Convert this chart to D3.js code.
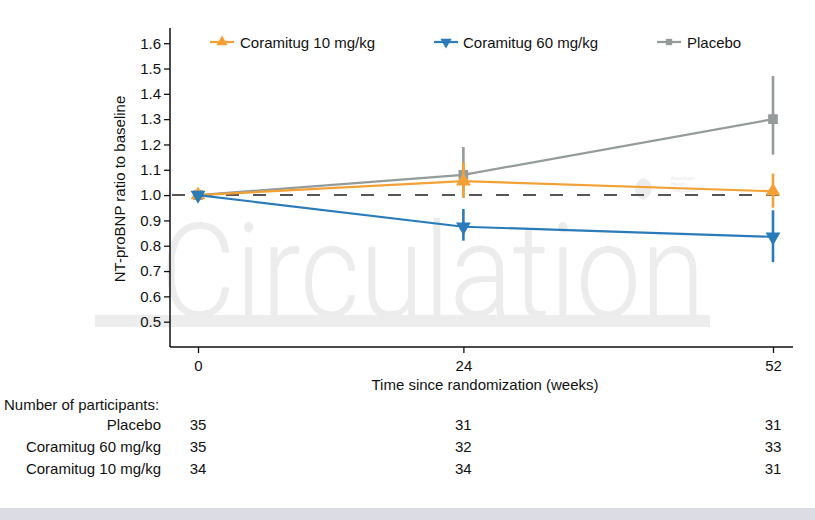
<!DOCTYPE html>
<html><head><meta charset="utf-8">
<script src="https://cdn.jsdelivr.net/npm/d3@7"></script>
<style>
html,body{margin:0;padding:0;background:#fff;}
text{font-family:"Liberation Sans",Arial,sans-serif;}
</style></head>
<body>
<svg id="c" width="815" height="520"></svg>
<script>
const weeks = [0, 24, 52];
const yTicks = [0.5,0.6,0.7,0.8,0.9,1.0,1.1,1.2,1.3,1.4,1.5,1.6];
const seriesNames = ["Placebo", "Coramitug 10 mg/kg", "Coramitug 60 mg/kg"];
const placeboMean = [1.0, 1.08, 1.30];
const placeboLo = [1.0, 0.99, 1.16];
const placeboHi = [1.0, 1.19, 1.47];
const dose10Mean = [1.0, 1.055, 1.015];
const dose10Lo = [1.0, 0.99, 0.95];
const dose10Hi = [1.0, 1.13, 1.085];
const dose60Mean = [1.0, 0.875, 0.835];
const dose60Lo = [1.0, 0.82, 0.735];
const dose60Hi = [1.0, 0.945, 0.94];
const nPlacebo = [35, 31, 31];
const nDose60 = [35, 32, 33];
const nDose10 = [34, 34, 31];

const FS = 15;
const svg = d3.select("#c");
const x = d3.scaleLinear().domain([0,52]).range([198,773]);
const y = d3.scaleLinear().domain([0.4,1.66]).range([347,28]);

// watermark
svg.append("rect").attr("x",95).attr("y",315).attr("width",615).attr("height",12).attr("fill","#ededed");
svg.append("text").attr("x",160).attr("y",317).attr("font-size",132).attr("font-weight",300)
  .attr("fill","#ececec").attr("textLength",545).attr("lengthAdjust","spacingAndGlyphs")
  .style("font-family","Roboto, 'Liberation Sans', sans-serif").text("Circulation");
const wm = svg.append("g").attr("fill","#e8e8e8").attr("font-size",5.5);
wm.append("path").attr("d","M636,184 q6,-10 14,-2 q6,10 -6,18 q-12,-4 -8,-16z").attr("fill","#ececec");
wm.append("text").attr("x",671).attr("y",180).text("American");
wm.append("text").attr("x",671).attr("y",186).text("Heart");
wm.append("text").attr("x",671).attr("y",192).text("Association.");

// reference line
svg.append("line").attr("x1",172).attr("x2",792).attr("y1",y(1)).attr("y2",y(1))
  .attr("stroke","#555").attr("stroke-width",2).attr("stroke-dasharray","13,14");

// axes
const yAxis = svg.append("g").attr("transform","translate(170,0)")
  .call(d3.axisLeft(y).tickValues(yTicks).tickFormat(d3.format(".1f")).tickSize(6).tickSizeOuter(0));
yAxis.select(".domain").attr("d","M0,28V347").attr("stroke","#111").attr("stroke-width",1.5);
const xAxis = svg.append("g").attr("transform","translate(0,347)")
  .call(d3.axisBottom(x).tickValues(weeks).tickSize(6).tickSizeOuter(0));
xAxis.select(".domain").attr("d","M170,0H793").attr("stroke","#111").attr("stroke-width",1.5);
svg.selectAll(".tick line").attr("stroke","#111").attr("stroke-width",1.3);
svg.selectAll(".tick text").attr("font-size",FS).attr("fill","#111")
  .style("font-family","'Liberation Sans',Arial,sans-serif");
yAxis.selectAll(".tick text").attr("x",-9);
xAxis.selectAll(".tick text").attr("dy","1.0em");

svg.append("text").attr("x",485).attr("y",390).attr("text-anchor","middle").attr("font-size",FS).attr("fill","#111")
  .text("Time since randomization (weeks)");
svg.append("text").attr("transform","translate(125,189) rotate(-90)").attr("text-anchor","middle")
  .attr("font-size",FS).attr("fill","#111").text("NT-proBNP ratio to baseline");

// series
const series = [
  {name:"Placebo", mean:placeboMean, lo:placeboLo, hi:placeboHi, color:"#939b9b", sym:d3.symbolSquare, size:95, rot:0},
  {name:"Coramitug 10 mg/kg", mean:dose10Mean, lo:dose10Lo, hi:dose10Hi, color:"#f3a035", sym:d3.symbolTriangle, size:95, rot:0},
  {name:"Coramitug 60 mg/kg", mean:dose60Mean, lo:dose60Lo, hi:dose60Hi, color:"#2a7bb9", sym:d3.symbolTriangle, size:95, rot:180}
];
const line = d3.line().x((d,i)=>x(weeks[i])).y(d=>y(d));
series.forEach(s=>{
  const g = svg.append("g");
  g.append("path").attr("d",line(s.mean)).attr("fill","none").attr("stroke",s.color).attr("stroke-width",2.2);
  weeks.forEach((w,i)=>{
    if (s.hi[i] !== s.lo[i]) {
      g.append("line").attr("x1",x(w)).attr("x2",x(w)).attr("y1",y(s.lo[i])).attr("y2",y(s.hi[i]))
        .attr("stroke",s.color).attr("stroke-width",2.6);
    }
    g.append("path").attr("d",d3.symbol().type(s.sym).size(s.size)())
      .attr("transform",`translate(${x(w)},${y(s.mean[i])}) rotate(${s.rot})`).attr("fill",s.color);
  });
});

// legend
const legendItems = [
  {s:series[1], lx:210, tx:240},
  {s:series[2], lx:434, tx:463},
  {s:series[0], lx:657, tx:687}
];
legendItems.forEach(it=>{
  const g = svg.append("g");
  g.append("line").attr("x1",it.lx).attr("x2",it.lx+24).attr("y1",42).attr("y2",42)
    .attr("stroke",it.s.color).attr("stroke-width",2.2);
  g.append("path").attr("d",d3.symbol().type(it.s.sym).size(it.s.sym===d3.symbolSquare?40:55)())
    .attr("transform",`translate(${it.lx+12},42) rotate(${it.s.rot})`).attr("fill",it.s.color);
  g.append("text").attr("x",it.tx).attr("y",47.5).attr("font-size",FS).attr("fill","#111").text(it.s.name);
});

// number at risk table
svg.append("text").attr("x",4).attr("y",410).attr("font-size",FS).attr("fill","#111").text("Number of participants:");
const rows = [
  {label:"Placebo", n:nPlacebo},
  {label:"Coramitug 60 mg/kg", n:nDose60},
  {label:"Coramitug 10 mg/kg", n:nDose10}
];
rows.forEach((r,ri)=>{
  const yy = 429.5 + ri*22;
  svg.append("text").attr("x",161).attr("y",yy).attr("text-anchor","end").attr("font-size",FS).attr("fill","#111").text(r.label);
  weeks.forEach((w,i)=>{
    svg.append("text").attr("x",x(w)).attr("y",yy).attr("text-anchor","middle").attr("font-size",FS).attr("fill","#111").text(r.n[i]);
  });
});

// bottom band
svg.append("rect").attr("x",0).attr("y",508).attr("width",815).attr("height",12).attr("fill","#dcdce5");
</script>
</body></html>
